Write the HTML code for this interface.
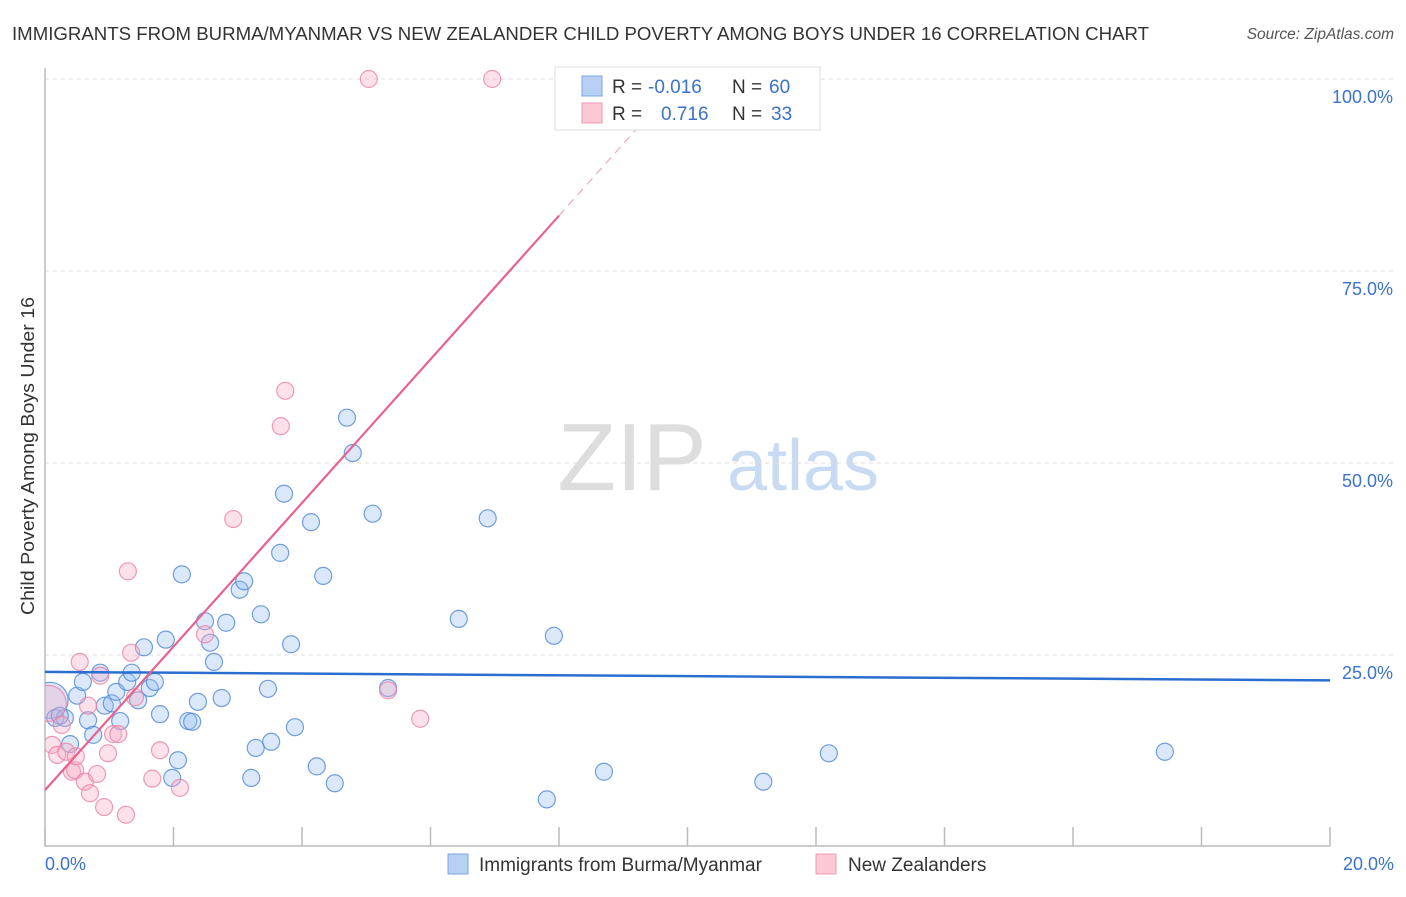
<!DOCTYPE html>
<html><head><meta charset="utf-8"><style>
body{margin:0;background:#fff;font-family:"Liberation Sans",sans-serif;}
svg text{font-family:"Liberation Sans",sans-serif;}
</style></head><body>
<svg id="chart" width="1406" height="892" viewBox="0 0 1406 892" xmlns="http://www.w3.org/2000/svg">
<text x="12" y="40" font-size="18.5" fill="#333" textLength="1137" lengthAdjust="spacingAndGlyphs">IMMIGRANTS FROM BURMA/MYANMAR VS NEW ZEALANDER CHILD POVERTY AMONG BOYS UNDER 16 CORRELATION CHART</text>
<text x="1394" y="39" font-size="15.5" fill="#555" text-anchor="end" font-style="italic">Source: ZipAtlas.com</text>
<g>
<text x="632" y="490" font-size="96" fill="#ddd" text-anchor="middle" font-family="Liberation Serif, serif">ZIP</text>
<text x="803" y="490" font-size="72" fill="#c9dbf2" text-anchor="middle">atlas</text>
</g>
<g id="grid"></g>
<g id="axes"></g>
<defs><clipPath id="plotclip"><rect x="45" y="60" width="1300" height="786"/></clipPath></defs>
<g id="pts" clip-path="url(#plotclip)"></g>
<g id="trends"></g>
<text transform="translate(34,456) rotate(-90)" font-size="18" fill="#333" text-anchor="middle" textLength="318" lengthAdjust="spacingAndGlyphs">Child Poverty Among Boys Under 16</text>
<g>
<rect x="555" y="67" width="265" height="63" fill="#fff" stroke="#ddd"/>
<rect x="582" y="76" width="20" height="20" fill="#b7d0f3" stroke="#7aa6e4"/>
<rect x="582" y="103" width="20" height="20" fill="#fbc8d6" stroke="#ee9ab3"/>
<text x="612" y="93" font-size="19" fill="#333">R = </text><text x="648" y="93" font-size="19" fill="#3a72cc">-0.016</text>
<text x="732" y="93" font-size="19" fill="#333">N = </text><text x="769" y="93" font-size="19" fill="#3a72cc">60</text>
<text x="612" y="120" font-size="19" fill="#333">R = </text><text x="661" y="120" font-size="19" fill="#3a72cc">0.716</text>
<text x="732" y="120" font-size="19" fill="#333">N = </text><text x="771" y="120" font-size="19" fill="#3a72cc">33</text>
</g>
<g>
<rect x="448" y="854" width="20" height="20" fill="#b7d0f3" stroke="#7aa6e4"/>
<text x="479" y="871" font-size="19" fill="#333">Immigrants from Burma/Myanmar</text>
<rect x="816" y="854" width="20" height="20" fill="#fbc8d6" stroke="#ee9ab3"/>
<text x="848" y="871" font-size="19" fill="#333">New Zealanders</text>
</g>
</svg>
<script>
const xTicks=[0,2,4,6,8,10,12,14,16,18,20];
const yTicks=[25,50,75,100];
const yTickLabels=["25.0%","50.0%","75.0%","100.0%"];
const xEndLabels=["0.0%","20.0%"];
const blueX=[0.08,0.16,0.31,0.23,0.39,0.50,0.59,0.67,0.75,0.86,0.93,1.04,1.11,1.17,1.28,1.35,1.45,1.54,1.63,1.71,1.79,1.88,1.98,2.07,2.13,2.23,2.29,2.38,2.49,2.57,2.63,2.75,2.82,3.03,3.10,3.21,3.28,3.36,3.47,3.52,3.66,3.72,3.83,3.89,4.14,4.23,4.33,4.51,4.70,4.79,5.10,5.34,6.44,6.89,7.81,7.92,8.70,11.18,12.20,17.43];
const blueY=[19.1,16.8,16.8,17.1,13.4,19.7,21.5,16.5,14.6,22.7,18.4,18.7,20.2,16.4,21.5,22.7,19.1,26.0,20.7,21.5,17.3,27.0,9.0,11.3,35.5,16.4,16.3,18.9,29.4,26.6,24.1,19.4,29.2,33.5,34.6,9.0,12.9,30.3,20.6,13.7,38.3,46.0,26.4,15.6,42.3,10.5,35.3,8.3,55.9,51.3,43.4,20.7,29.7,42.8,6.2,27.5,9.8,8.5,12.2,12.4];
const pinkX=[0.05,0.11,0.19,0.26,0.33,0.42,0.47,0.48,0.54,0.62,0.67,0.70,0.81,0.86,0.92,0.98,1.06,1.14,1.26,1.29,1.34,1.40,1.67,1.79,2.10,2.49,2.93,3.67,3.74,5.04,5.34,5.84,6.96];
const pinkY=[18.7,13.3,12.0,15.9,12.4,9.8,10.0,11.8,24.1,8.5,18.4,7.0,9.5,22.3,5.2,12.2,14.7,14.7,4.2,35.9,25.3,19.5,8.9,12.6,7.7,27.7,42.7,54.8,59.4,100,20.4,16.7,100];
const blueTrend=[22.8,21.7];
const pinkTrend=[7.4,9.35];
const pinkSolidEnd=8.0, pinkDashEnd=9.4;

const NS="http://www.w3.org/2000/svg";
const X=v=>45+v/20*1285;
const Y=v=>847-v*7.68;
function mk(tag,attrs,parent){const e=document.createElementNS(NS,tag);for(const k in attrs)e.setAttribute(k,attrs[k]);parent.appendChild(e);return e;}
const grid=document.getElementById('grid'),axes=document.getElementById('axes'),pts=document.getElementById('pts'),trends=document.getElementById('trends');
yTicks.forEach((t,i)=>{
  const l=mk('line',{x1:45,x2:1394,y1:Y(t),y2:Y(t),stroke:'#ddd','stroke-dasharray':'4,4'},grid);
  
  
  const tx=mk('text',{x:1393,y:Y(t)+24,'font-size':18,fill:'#3a72cc','text-anchor':'end'},axes);
  tx.textContent=yTickLabels[i];
  
  
});
const ax=mk('path',{d:'M45,68 V846 H1330',fill:'none',stroke:'#bbb','stroke-width':1.5},axes);


xTicks.forEach(t=>{
  const l=mk('line',{x1:X(t),x2:X(t),y1:827,y2:846,stroke:'#bbb','stroke-width':1.5},axes);
  
  
});
[[0,'start',45],[20,'end',1394]].forEach((a,i)=>{
  const tx=mk('text',{x:a[2],y:870,'font-size':18,fill:'#3a72cc','text-anchor':a[1]},axes);
  tx.textContent=xEndLabels[i];
  
  
});
function dot(x,y,r,fill,stroke,name){
  const c=mk('circle',{cx:X(x),cy:Y(y),r:r,fill:fill,stroke:stroke,'stroke-width':1.2},pts);
  
  
}
blueX.forEach((x,i)=>dot(x,blueY[i],i===0?18:8.5,'rgba(150,190,240,0.35)','rgba(80,135,215,0.8)','burma-point'));
pinkX.forEach((x,i)=>dot(x,pinkY[i],i===0?18:8.5,'rgba(245,170,195,0.35)','rgba(235,130,165,0.8)','nz-point'));
const bl=mk('line',{x1:X(0),y1:Y(blueTrend[0]),x2:X(20),y2:Y(blueTrend[1]),stroke:'#2a6fd0','stroke-width':2.5},trends);


const pf=x=>pinkTrend[0]+pinkTrend[1]*x;
const pl=mk('line',{x1:X(0),y1:Y(pf(0)),x2:X(pinkSolidEnd),y2:Y(pf(pinkSolidEnd)),stroke:'#e8628e','stroke-width':2.2},trends);


const pd=mk('line',{x1:X(pinkSolidEnd),y1:Y(pf(pinkSolidEnd)),x2:X(pinkDashEnd),y2:Y(pf(pinkDashEnd)),stroke:'#f0a8c0','stroke-width':1.2,'stroke-dasharray':'8,6'},trends);


</script>
</body></html>
